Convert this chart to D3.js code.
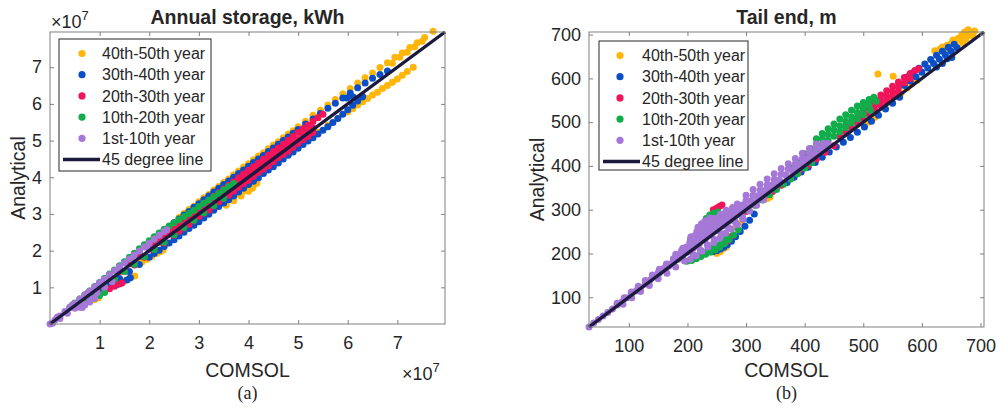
<!DOCTYPE html>
<html>
<head>
<meta charset="utf-8">
<script src="https://cdn.jsdelivr.net/npm/d3@7"></script>
<style>
  body { margin: 0; background: #fff; }
  svg { display: block; }
  text { font-family: "Liberation Sans", Arial, sans-serif; fill: #262626; }
</style>
</head>
<body>
<svg id="chart"></svg>
<script>
let w = 997;
let h = 410;

let seriesNames = ["40th-50th year", "30th-40th year", "20th-30th year", "10th-20th year", "1st-10th year"];
let seriesColors = ["#FFB608", "#0B4FC6", "#F0145A", "#11AD4B", "#A578D8"];
let lineName = "45 degree line";
let lineColor = "#1c1a3c";

// (a) annual storage, units of 1e7 kWh : [COMSOL, Analytical]
let storageTicks = [1, 2, 3, 4, 5, 6, 7];
let storage4050 = [
  [2.6,2.9],[2.7,3.01],[2.8,3.12],[2.9,3.21],[3.0,3.33],[3.1,3.44],[3.2,3.53],[3.3,3.65],[3.4,3.75],[3.5,3.86],
  [3.6,3.95],[3.7,4.07],[3.8,4.17],[3.9,4.28],[4.0,4.37],[4.1,4.48],[4.2,4.58],[4.3,4.67],[4.4,4.78],[4.5,4.88],
  [4.6,4.97],[4.7,5.08],[4.8,5.18],[4.9,5.27],[5.0,5.38],[5.15,5.53],[5.3,5.69],[5.45,5.83],[5.6,5.97],[5.75,6.12],
  [5.9,6.28],[6.05,6.42],[6.2,6.57],[6.35,6.71],[6.5,6.84],[6.65,6.99],[6.8,7.12],[6.95,7.27],[7.1,7.39],[7.25,7.54],
  [7.4,7.67],[7.55,7.81],[7.72,7.98],
  [6.9,7.11],[7.05,7.27],[7.2,7.41],[7.35,7.56],[7.5,7.71],
  [5.0,4.85],[5.2,5.04],[5.4,5.23],[5.6,5.42],[5.8,5.6],[6.0,5.78],[6.1,5.87],[6.2,5.97],[6.3,6.06],[6.4,6.15],
  [6.5,6.24],[6.6,6.32],[6.7,6.42],[6.8,6.5],[6.9,6.59],[7.0,6.68],[7.1,6.78],[7.2,6.88],[7.32,7.0],
  [3.5,3.3],[3.6,3.38],[3.7,3.46],[3.8,3.54],[3.9,3.62],[4.0,3.7],[4.1,3.78],[4.17,3.84],
  [3.55,3.24],[3.7,3.36],[3.85,3.49],[4.0,3.62],[4.08,3.7],
  [1.85,1.68],[1.95,1.76],[2.05,1.84],[2.15,1.92],[2.22,1.97],[2.28,2.02],
  [1.4,1.12],[1.5,1.18],[1.6,1.25],[1.71,1.31],
  [0.8,0.62],[0.9,0.67],[0.97,0.71]
];
let storage3040 = [
  [1.0,1.12],[1.1,1.23],[1.2,1.34],[1.3,1.45],[1.4,1.56],[1.5,1.68],[1.6,1.79],[1.7,1.9],[1.8,2.0],[1.9,2.11],
  [2.0,2.22],[2.1,2.33],[2.2,2.43],[2.3,2.54],[2.4,2.65],[2.5,2.76],[2.6,2.86],[2.7,2.97],[2.8,3.07],[2.9,3.18],
  [3.0,3.28],[3.1,3.39],[3.2,3.49],[3.3,3.6],[3.4,3.7],[3.5,3.8],[3.6,3.9],[3.7,4.0],[3.8,4.1],[3.9,4.2],
  [4.0,4.3],[4.1,4.4],[4.2,4.5],[4.3,4.59],[4.4,4.7],[4.5,4.8],[4.6,4.9],[4.7,5.0],[4.8,5.1],[4.9,5.2],
  [5.0,5.3],[5.15,5.45],[5.3,5.59],[5.45,5.74],[5.6,5.88],[5.75,6.02],[5.9,6.16],[6.05,6.3],[6.2,6.44],[6.35,6.57],
  [6.5,6.7],[6.65,6.8],[6.8,6.9],
  [1.0,0.88],[1.2,1.06],[1.4,1.24],[1.6,1.43],[1.8,1.62],[2.0,1.82],[2.1,1.92],[2.2,2.01],[2.3,2.11],[2.4,2.21],
  [2.5,2.3],[2.6,2.4],[2.7,2.5],[2.8,2.6],[2.9,2.69],[3.0,2.79],[3.1,2.89],[3.2,2.99],[3.3,3.1],[3.4,3.2],
  [3.5,3.3],[3.6,3.39],[3.7,3.49],[3.8,3.6],[3.9,3.7],[4.0,3.8],[4.1,3.89],[4.2,3.99],[4.3,4.1],[4.4,4.2],
  [4.5,4.29],[4.6,4.39],[4.7,4.5],[4.8,4.6],[4.9,4.69],[5.0,4.79],[5.1,4.89],[5.2,4.99],[5.3,5.08],[5.4,5.18],
  [5.5,5.28],[5.6,5.38],[5.7,5.49],[5.8,5.6],[5.9,5.72],[6.0,5.84],[6.1,5.96],[6.2,6.08],[6.3,6.2],
  [1.35,1.08],[1.45,1.14],[1.55,1.2],[1.62,1.26],
  [5.98,6.16],[6.11,6.19],[6.29,6.19]
];
let storage2030 = [
  [0.8,0.86],[1.0,1.07],[1.2,1.28],[1.4,1.49],[1.6,1.71],[1.8,1.92],[2.0,2.13],[2.1,2.24],[2.2,2.34],[2.3,2.44],
  [2.4,2.55],[2.5,2.65],[2.6,2.76],[2.7,2.86],[2.8,2.96],[2.9,3.07],[3.0,3.17],[3.1,3.27],[3.2,3.37],[3.3,3.48],
  [3.4,3.58],[3.5,3.68],[3.6,3.78],[3.7,3.88],[3.8,3.99],[3.9,4.09],[4.0,4.19],[4.1,4.29],[4.2,4.39],[4.3,4.49],
  [4.4,4.6],[4.5,4.7],[4.6,4.8],[4.7,4.9],[4.8,5.01],[4.9,5.11],[5.0,5.22],[5.1,5.32],[5.2,5.42],[5.3,5.52],
  [5.4,5.62],[5.5,5.72],
  [1.0,1.04],[1.2,1.24],[1.4,1.43],[1.6,1.64],[1.8,1.85],[2.0,2.04],[2.1,2.14],[2.2,2.23],[2.3,2.34],[2.4,2.45],
  [2.5,2.54],[2.6,2.63],[2.7,2.74],[2.8,2.85],[2.9,2.94],[3.0,3.03],[3.1,3.14],[3.2,3.25],[3.3,3.34],[3.4,3.43],
  [3.5,3.54],[3.6,3.65],[3.7,3.74],[3.8,3.83],[3.9,3.94],[4.0,4.05],[4.1,4.14],[4.2,4.23],[4.3,4.34],[4.4,4.45],
  [4.5,4.54],[4.6,4.63],[4.7,4.74],[4.8,4.85],[4.9,4.94],[5.0,5.03],[5.1,5.14],[5.2,5.25],[5.3,5.34],
  [1.5,1.43],[1.7,1.61],[1.9,1.82],[2.1,2.03],[2.3,2.21],[2.5,2.42],[2.6,2.53],[2.7,2.62],[2.8,2.71],[2.9,2.82],
  [3.0,2.93],[3.1,3.02],[3.2,3.11],[3.3,3.22],[3.4,3.33],[3.5,3.42],[3.6,3.51],[3.7,3.62],[3.8,3.73],[3.9,3.82],
  [4.0,3.91],[4.1,4.02],[4.2,4.13],[4.3,4.22],[4.4,4.31],[4.5,4.42],[4.6,4.53],[4.7,4.62],[4.8,4.71],[4.9,4.82],
  [5.0,4.93],[5.1,5.02],[5.2,5.11],[5.3,5.22],
  [1.1,0.9],[1.2,0.96],[1.3,1.03],[1.4,1.09],[1.45,1.12]
];
let storage1020 = [
  [0.4,0.46],[0.5,0.57],[0.6,0.68],[0.7,0.79],[0.8,0.9],[0.9,1.02],[1.0,1.13],[1.1,1.25],[1.2,1.36],[1.3,1.47],
  [1.4,1.59],[1.5,1.7],[1.6,1.82],[1.7,1.93],[1.8,2.05],[1.9,2.16],[2.0,2.27],[2.1,2.38],[2.2,2.48],[2.3,2.58],
  [2.4,2.67],[2.5,2.76],[2.6,2.84],[2.7,2.93],[2.8,3.01],[2.9,3.1],[3.0,3.2],[3.1,3.29],[3.2,3.38],[3.3,3.47],
  [3.4,3.56],[3.5,3.65],[3.6,3.75],[3.7,3.83],
  [0.5,0.45],[0.7,0.63],[0.9,0.83],[1.1,1.03],[1.3,1.23],[1.5,1.43],[1.7,1.63],[1.9,1.83],[2.1,2.03],[2.3,2.23],
  [2.5,2.43],[2.7,2.63],[2.9,2.83],[3.1,3.03],[3.3,3.23],[3.5,3.43],
  [0.9,0.7],[1.0,0.78],[1.1,0.86]
];
let storage0110 = [
  [0.0,0.0],[0.1,0.11],[0.2,0.22],[0.3,0.34],[0.4,0.45],[0.5,0.56],[0.6,0.68],[0.7,0.79],[0.8,0.9],[0.9,1.01],
  [1.0,1.12],[1.1,1.23],[1.2,1.34],[1.3,1.45],[1.4,1.56],[1.5,1.66],[1.6,1.77],[1.7,1.88],[1.8,1.99],[1.9,2.1],
  [2.0,2.2],[2.1,2.31],[2.2,2.42],[2.3,2.52],[2.35,2.57],
  [0.15,0.19],[0.45,0.52],[0.75,0.84],[1.05,1.15],[1.35,1.46],[1.65,1.78],[1.95,2.1],
  [0.05,0.02],[0.2,0.15],[0.35,0.29],[0.5,0.43],[0.65,0.57],[0.8,0.71],[0.95,0.86],[1.1,1.0],[1.25,1.15],
  [0.6,0.46],[0.7,0.52],[0.8,0.6],[0.9,0.7],[0.65,0.45]
];

// (b) tail end, m : [COMSOL, Analytical]
let tailTicks = [100, 200, 300, 400, 500, 600, 700];
let tail4050 = [
  [622,663],[631,667],[643,676],[653,688],[662,692],[668,699],[679,711],[670,681],[660,672],[687,697],
  [684,704],[675,690],[650,680],[640,668],[635,672],[657,684],[665,688],[690,708],[680,698],[673,706],
  [525,610],[551,605],
  [508,500],[515,506],[520,511],[540,544],[548,551],[556,558],[565,567],[575,578],[583,588],[592,596],
  [250,200],[256,204],[260,210],[266,214],[283,260],[293,272],[336,325],[341,329]
];
let tail3040 = [
  [575,603],[585,613],[595,623],[605,633],[615,643],[625,653],[635,662],[645,671],[655,678],
  [570,584],[580,594],[590,604],[600,614],[610,624],[620,634],[630,644],[640,654],[650,662],[660,670],
  [625,626],[635,634],[643,645],[651,648],
  [370,362],[382,374],[394,386],[406,397],[418,408],[430,420],[442,432],[454,443],[466,454],[478,465],
  [490,477],[502,489],[514,502],[526,516],[538,530],[550,543],[562,557],
  [243,204],[250,206],[256,210],[262,214],[268,220],[275,228],[282,238],[290,250],[298,262],[306,276],[314,290]
];
let tail2030 = [
  [500,532],[510,542],[520,552],[530,562],[540,572],[550,582],[560,592],[570,602],[580,611],[588,618],[594,622],
  [470,490],[480,500],[490,510],[500,520],[510,530],[520,540],[530,550],[540,560],[550,570],[560,580],
  [570,590],[580,600],
  [460,468],[470,478],[480,488],[490,498],[500,508],[510,518],[520,528],[530,538],[540,548],[550,558],[560,568],
  [300,296],[315,311],[330,326],[345,341],[360,356],[375,371],[390,386],[405,401],[420,416],[435,431],[450,446],
  [255,308],[259,311],[250,304],[244,300],[264,226],[270,232],[276,240],[268,228]
];
let tail1020 = [
  [420,462],[430,474],[440,485],[450,496],[460,507],[470,517],[480,527],[490,537],[500,545],[510,552],
  [518,557],
  [400,428],[410,440],[420,451],[430,462],[440,472],[450,482],[460,492],[470,502],[480,512],[490,522],
  [500,531],[510,539],[522,548],
  [380,396],[390,407],[400,418],[410,428],[420,438],[430,448],[440,458],[450,468],[460,478],[470,488],
  [480,498],[490,508],[500,517],[512,527],
  [280,275],[292,286],[304,298],[316,310],[328,322],[340,334],[352,346],[364,358],[376,370],[388,382],
  [400,395],[412,407],
  [232,280],[238,288],[245,292],[252,295],[265,292],[278,292],
  [199,182],[207,184],[215,188],[223,193],[231,198],[239,203],[247,208],[255,214],[263,222],[271,232],
  [279,242],[287,254],[211,190],[219,195],[227,200],[235,206],[243,212],[251,219],[259,228],[267,238]
];
let tail0110 = [
  [32,32],[40,41],[48,49],[56,57],[64,65],[72,73],[80,82],[88,89],[96,98],[104,106],
  [112,114],[120,122],[128,130],[136,139],[144,147],[152,155],[160,162],[168,171],[176,179],[184,187],
  [192,195],[200,203],[210,212],[220,222],[230,232],[240,242],[250,252],[260,263],[270,273],[280,283],
  [290,293],[300,303],[310,313],[320,323],[330,334],[340,344],[350,354],[360,364],[370,374],[380,384],
  [390,394],[400,405],[410,414],[420,425],[430,434],[440,444],
  [90,84],[105,99],[120,113],[135,127],[150,142],[165,155],[180,169],[195,183],[210,197],[222,208],
  [234,220],[246,232],[258,245],[270,258],[282,271],[294,284],[306,297],[318,310],[330,323],
  [205,187],[215,195],[225,205],[235,215],[245,225],[255,235],[265,246],[275,256],[285,266],[295,278],
  [150,156],[160,166],[170,176],[180,187],[190,196],[200,207],[210,216],[220,226],[230,236],[240,247],
  [250,256],[260,266],[270,276],[280,287],[290,296],[300,306],[310,316],[320,326],[330,336],
  [80,86],[92,99],[104,112],[116,125],[128,138],[140,151],[152,164],[164,176],[176,188],[188,200],
  [200,212],[212,224],[224,236],[236,248],[248,260],[260,272],[272,284],[284,296],[296,308],[308,320],
  [320,332],[332,344],[344,356],[356,368],[368,380],[380,392],[392,404],[404,416],[416,428],[428,440],[440,451],
  [190,207],[198,215],[206,223],[214,231],[222,239],[230,247],[238,255],[246,263],[254,271],[262,279],
  [270,287],[278,295],[286,303],[294,311],
  [180,198],[192,212],[204,225],[216,238],[228,250],[240,262],[252,273],[264,285],[276,297],[288,309],
  [300,321],[312,333],[324,345],[336,357],[348,369],[360,381],[372,393],[384,405],[396,417],[408,429],
  [420,441],[432,452],
  [205,233],[213,241],[221,249],[229,257],[237,265],[245,273],[253,281],[261,289],[269,297],[277,305],[285,313],
  [206,238],[216,250],[226,262],[236,272],[246,280],[256,289],[266,299],[300,333],[312,346],[324,358],
  [336,370],[348,382],[360,394],[372,405],[384,417],[396,429],[408,440],[420,450],
  [218,260],[224,268],[230,274],[238,281]
];

let svg = d3.select('#chart').attr('width', w).attr('height', h);

let drawPanel = (p) => {
  let x = d3.scaleLinear().domain(p.domain).range([p.left, p.right]);
  let y = d3.scaleLinear().domain(p.domain).range([p.bottom, p.top]);
  let g = svg.append('g');

  p.series.forEach((s, i) => {
    g.append('g').selectAll('circle')
      .data(s)
      .enter()
      .append('circle')
      .attr('cx', d => x(d[0]))
      .attr('cy', d => y(d[1]))
      .attr('r', 3.5)
      .attr('fill', seriesColors[i]);
  });

  g.append('line')
    .attr('x1', x(p.domain[0])).attr('y1', y(p.domain[0]))
    .attr('x2', x(p.domain[1])).attr('y2', y(p.domain[1]))
    .attr('stroke', lineColor)
    .attr('stroke-width', 3.4);

  // box + ticks on all four sides, pointing inward
  let axis = (a, tr) => {
    let ag = g.append('g').attr('transform', tr).call(a);
    ag.select('.domain').remove();
    ag.selectAll('line').attr('stroke', '#808080');
    ag.selectAll('text').attr('fill', '#262626').style('font-size', '18px');
  };
  axis(d3.axisBottom(x).tickValues(p.ticks).tickSize(-4).tickPadding(12).tickFormat(d3.format('d')), `translate(0,${p.bottom})`);
  axis(d3.axisLeft(y).tickValues(p.ticks).tickSize(-4).tickPadding(8).tickFormat(d3.format('d')), `translate(${p.left},0)`);
  axis(d3.axisTop(x).tickValues(p.ticks).tickSize(-4).tickFormat(''), `translate(0,${p.top})`);
  axis(d3.axisRight(y).tickValues(p.ticks).tickSize(-4).tickFormat(''), `translate(${p.right},0)`);

  g.append('rect')
    .attr('x', p.left).attr('y', p.top)
    .attr('width', p.right - p.left).attr('height', p.bottom - p.top)
    .attr('fill', 'none')
    .attr('stroke', '#808080')
    .attr('stroke-width', 1);

  // titles and labels
  let cx = (p.left + p.right) / 2;
  g.append('text').attr('x', cx).attr('y', 24).attr('text-anchor', 'middle')
    .style('font-size', '19.5px').style('font-weight', 'bold').attr('fill', '#000').text(p.title);
  g.append('text').attr('x', cx).attr('y', 377).attr('text-anchor', 'middle')
    .style('font-size', '19.5px').text('COMSOL');
  g.append('text').attr('transform', `translate(${p.left - p.ylabelGap},${(p.top + p.bottom) / 2}) rotate(-90)`)
    .attr('text-anchor', 'middle').style('font-size', '19.5px').text('Analytical');
  g.append('text').attr('x', cx).attr('y', 399).attr('text-anchor', 'middle')
    .style('font-family', '"Liberation Serif", "Times New Roman", serif')
    .style('font-size', '18px').attr('fill', '#000').text(p.tag);

  if (p.exponent) {
    let ex = (tx, ty) => {
      let t = g.append('text').attr('x', tx).attr('y', ty).style('font-size', '18px');
      t.append('tspan').text('\u00d710');
      t.append('tspan').attr('dy', -8).style('font-size', '13px').text(p.exponent);
    };
    ex(p.left + 1, 28);
    ex(p.right - 43, 380);
  }

  // legend
  let L = p.legend;
  let lg = g.append('g');
  lg.append('rect')
    .attr('x', L.x).attr('y', L.y)
    .attr('width', L.w).attr('height', L.h)
    .attr('fill', '#fff')
    .attr('stroke', '#262626')
    .attr('stroke-width', 1);
  let rows = seriesNames.concat([lineName]);
  rows.forEach((name, i) => {
    let ry = L.y + 14.5 + i * 21.2;
    if (i < seriesNames.length) {
      lg.append('circle').attr('cx', L.mx).attr('cy', ry).attr('r', 3.6).attr('fill', seriesColors[i]);
    } else {
      lg.append('line').attr('x1', L.x + 4).attr('x2', L.tx - 2)
        .attr('y1', ry).attr('y2', ry)
        .attr('stroke', lineColor).attr('stroke-width', 3.4);
    }
    lg.append('text').attr('x', L.tx).attr('y', ry).attr('dy', '0.35em')
      .style('font-size', '16px').attr('fill', '#000').text(name);
  });
};

drawPanel({
  title: 'Annual storage, kWh', tag: '(a)', exponent: '7',
  domain: [0, 7.96], ticks: storageTicks,
  left: 50, right: 445, top: 32, bottom: 324, ylabelGap: 25,
  series: [storage4050, storage3040, storage2030, storage1020, storage0110],
  legend: { x: 59, y: 39, w: 152, h: 132, mx: 82, tx: 102 }
});

drawPanel({
  title: 'Tail end, m', tag: '(b)', exponent: null,
  domain: [32, 706], ticks: tailTicks,
  left: 589, right: 984, top: 32, bottom: 327, ylabelGap: 45,
  series: [tail4050, tail3040, tail2030, tail1020, tail0110],
  legend: { x: 599, y: 41, w: 149, h: 129, mx: 620, tx: 642 }
});
</script>
</body>
</html>
